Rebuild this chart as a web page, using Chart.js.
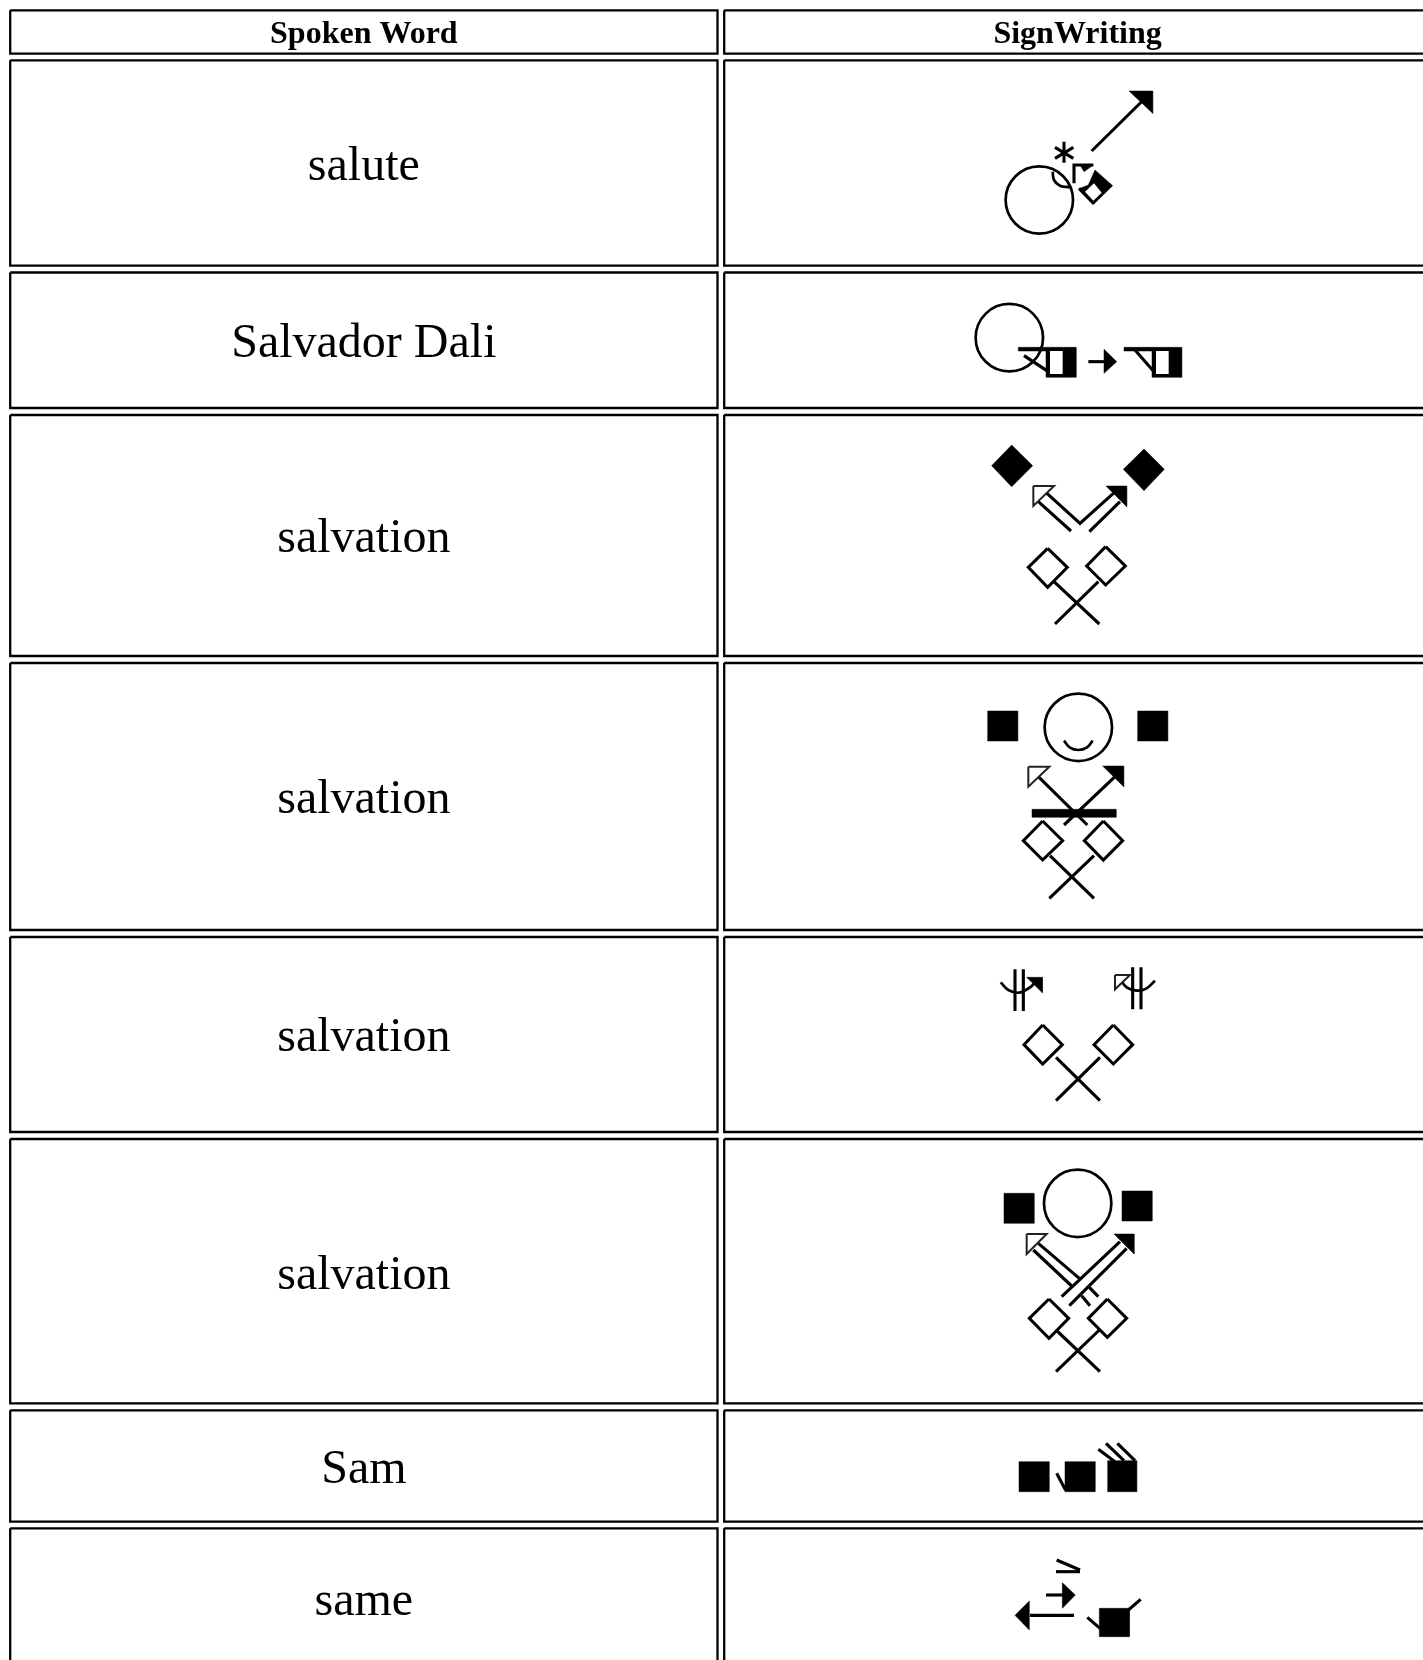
<!DOCTYPE html>
<html>
<head>
<meta charset="utf-8">
<title>SignWriting</title>
<script src="https://cdn.jsdelivr.net/npm/chart.js@4"></script>
<style>
  body { margin: 0; background: #fff; overflow: hidden; }
  #page { width: 1423px; height: 1660px; }
  canvas { filter: blur(0.35px); }
</style>
</head>
<body>
<div id="page"><canvas id="table-chart" width="1423" height="1660"></canvas></div>
<script>
// table text
const headers = ["Spoken Word", "SignWriting"];
const words = ["salute", "Salvador Dali", "salvation", "salvation", "salvation", "salvation", "Sam", "same"];
const headerBaseline = 43;
const wordBaselines = [180, 357, 552, 813, 1051, 1289, 1483, 1615];

// outer edges of the table rows and columns
const rowTops = [9.3, 59.3, 271.5, 414, 662, 936, 1138, 1409.3, 1527.3];
const rowBottoms = [54.7, 266.7, 409, 657, 931, 1133, 1404.3, 1522.7, 1680];
const colLefts = [9.2, 723.2];
const colRights = [718.5, 1432];

const saluteAt = [960, 70];
const saluteLines = [
  [395,243, 550,90],
  [312,215, 312,278], [285,232, 340,265], [285,265, 340,232],
  [342,340, 342,285, 400,285], [357,355, 402,402]
];
const saluteCurves = [[278,305, 282,330, 300,347, 330,352]];
const saluteFills = [
  [507,63, 578,63, 578,130], [360,285, 400,285, 372,305],
  [405,300, 458,347, 402,402, 357,356, 385,345]
];
const saluteHoles = [[402,340, 425,368, 400,392, 375,365]];
const saluteRings = [[238,390]];

const daliAt = [950, 290];
const daliLines = [
  [222,197, 295,245], [415,215, 470,215], [555,180, 612,245]
];
const daliFills = [
  [205,172, 378,172, 378,262, 288,262, 288,183, 205,183], [462,178, 500,215, 462,250],
  [522,172, 695,172, 695,262, 606,262, 606,183, 522,183]
];
const daliHoles = [[300,183, 338,183, 338,252, 300,252], [618,183, 656,183, 656,252, 618,252]];
const daliRings = [[178,143]];

const salvationAAt = [970, 430];
const salvationALines = [
  [225,185, 330,280, 430,190], [205,215, 303,303], [358,305, 450,215],
  [252,455, 388,582], [385,455, 255,582]
];
const salvationAFills = [
  [125,45, 188,107, 125,170, 65,107], [522,57, 583,118, 522,182, 460,118],
  [408,168, 470,168, 470,230]
];
const salvationAHeads = [[190,168, 252,168, 190,228]];
const salvationAOutlines = [
  [233,355, 292,412, 233,472, 175,412], [407,350, 466,408, 407,465, 350,408]
];

const salvationBAt = [970, 680];
const salvationBLines = [
  [205,290, 352,435], [435,290, 282,435],
  [240,527, 372,655], [372,527, 238,655]
];
const salvationBCurves = [[282,182, 300,203, 325,210, 350,203, 368,182]];
const salvationBFills = [
  [53,93, 143,93, 143,183, 53,183], [503,93, 593,93, 593,183, 503,183],
  [398,258, 461,258, 461,320], [186,388, 438,388, 438,412, 186,412]
];
const salvationBHeads = [[175,260, 238,260, 175,320]];
const salvationBOutlines = [
  [218,423, 278,482, 218,540, 160,482], [400,423, 458,482, 400,540, 343,482]
];
const salvationBRings = [[325,142]];

const salvationCAt = [980, 950];
const salvationCLines = [
  [105,58, 105,183], [130,58, 130,183],
  [458,52, 458,178], [483,52, 483,178],
  [228,322, 360,452], [360,322, 228,452]
];
const salvationCCurves = [
  [62,97, 85,120, 118,128, 150,112, 170,92], [525,92, 500,115, 470,122, 440,112, 420,88]
];
const salvationCFills = [[140,82, 187,82, 187,128]];
const salvationCHeads = [[405,75, 450,75, 405,118]];
const salvationCOutlines = [
  [188,225, 247,284, 188,342, 132,284], [400,225, 458,284, 400,342, 342,284]
];

const salvationDAt = [980, 1150];
const salvationDLines = [
  [175,280, 298,385], [160,300, 275,408], [328,412, 355,440], [305,437, 330,467],
  [420,275, 245,440], [440,295, 268,467],
  [228,540, 360,665], [358,540, 228,665]
];
const salvationDFills = [
  [72,130, 162,130, 162,220, 72,220], [426,123, 516,123, 516,213, 426,213],
  [402,252, 462,252, 462,312]
];
const salvationDHeads = [[140,252, 200,252, 140,312]];
const salvationDOutlines = [
  [207,447, 266,505, 207,565, 148,505], [382,447, 440,505, 382,562, 325,505]
];
const salvationDRings = [[293,160]];

const samAt = [1000, 1420];
const samLines = [
  [170,160, 195,207, 200,212], [295,88, 345,125], [318,70, 372,122], [352,70, 405,122]
];
const samFills = [
  [57,125, 147,125, 147,215, 57,215], [195,125, 285,125, 285,215, 195,215], [323,122, 410,122, 410,215, 323,215]
];

const sameAt = [1000, 1420];
const sameLines = [
  [168,455, 240,455], [170,420, 240,450], [138,525, 200,525], [90,586, 222,586],
  [262,592, 300,625], [385,570, 422,538]
];
const sameFills = [
  [187,488, 226,525, 187,565], [88,543, 45,586, 88,630], [298,565, 388,565, 388,650, 298,650]
];

const signs = [
  { at: saluteAt, lines: saluteLines, curves: saluteCurves, fills: saluteFills, holes: saluteHoles, rings: saluteRings },
  { at: daliAt, lines: daliLines, fills: daliFills, holes: daliHoles, rings: daliRings },
  { at: salvationAAt, lines: salvationALines, fills: salvationAFills, heads: salvationAHeads, outlines: salvationAOutlines },
  { at: salvationBAt, lines: salvationBLines, curves: salvationBCurves, fills: salvationBFills, heads: salvationBHeads, outlines: salvationBOutlines, rings: salvationBRings },
  { at: salvationCAt, lines: salvationCLines, curves: salvationCCurves, fills: salvationCFills, heads: salvationCHeads, outlines: salvationCOutlines },
  { at: salvationDAt, lines: salvationDLines, fills: salvationDFills, heads: salvationDHeads, outlines: salvationDOutlines, rings: salvationDRings },
  { at: samAt, lines: samLines, fills: samFills },
  { at: sameAt, lines: sameLines, fills: sameFills },
];

const datasets = [];

function toPoints(at, flat) {
  const pts = [];
  for (let i = 0; i < flat.length; i += 2) {
    pts.push({ x: at[0] + flat[i] / 3, y: at[1] + flat[i + 1] / 3 });
  }
  return pts;
}

function closed(at, flat) {
  const pts = toPoints(at, flat);
  pts.push(pts[0]);
  return pts;
}

function addPath(data, opts) {
  datasets.push(Object.assign({
    data: data,
    showLine: true,
    pointRadius: 0,
    borderColor: "#000",
    borderWidth: 3.1,
    borderCapStyle: "butt",
    borderJoinStyle: "miter",
    fill: false,
    clip: false,
    order: -datasets.length,
  }, opts));
}

// cell borders
rowTops.forEach((top, r) => {
  const bottom = rowBottoms[r];
  colLefts.forEach((left, c) => {
    const right = colRights[c];
    addPath([
      { x: left + 1, y: top + 1 }, { x: right - 1, y: top + 1 },
      { x: right - 1, y: bottom - 1 }, { x: left + 1, y: bottom - 1 }, { x: left + 1, y: top + 1 },
    ], { borderWidth: 2.3 });
  });
});

signs.forEach((s) => {
  (s.rings || []).forEach((ring) => {
    datasets.push({
      data: toPoints(s.at, ring),
      pointRadius: 33.7,
      pointBorderWidth: 2.7,
      pointBorderColor: "#000",
      pointBackgroundColor: "transparent",
      clip: false,
      order: -datasets.length,
    });
  });
  (s.lines || []).forEach((flat) => addPath(toPoints(s.at, flat)));
  (s.curves || []).forEach((flat) => addPath(toPoints(s.at, flat), { tension: 0.4, borderWidth: 2.7 }));
  (s.outlines || []).forEach((flat) => {
    addPath(closed(s.at, flat), { borderWidth: 3, fill: "shape", backgroundColor: "#fff" });
  });
  (s.heads || []).forEach((flat) => {
    addPath(closed(s.at, flat), { borderWidth: 2, borderColor: "#222", fill: "shape", backgroundColor: "#fff" });
  });
  (s.fills || []).forEach((flat) => {
    addPath(closed(s.at, flat), { borderWidth: 0.5, fill: "shape", backgroundColor: "#000" });
  });
  (s.holes || []).forEach((flat) => {
    addPath(closed(s.at, flat), { borderWidth: 0, borderColor: "#fff", fill: "shape", backgroundColor: "#fff" });
  });
});

// words and headers sit on the same scales as everything else
const tableText = {
  id: "tableText",
  afterDatasetsDraw(chart) {
    const { ctx, scales } = chart;
    const col1 = (colLefts[0] + colRights[0]) / 2;
    const col2 = (colLefts[1] + colRights[1]) / 2;
    ctx.save();
    ctx.fillStyle = "#000";
    ctx.textAlign = "center";
    ctx.textBaseline = "alphabetic";
    ctx.font = "bold 32px 'Liberation Serif'";
    ctx.fillText(headers[0], scales.x.getPixelForValue(col1), scales.y.getPixelForValue(headerBaseline));
    ctx.fillText(headers[1], scales.x.getPixelForValue(col2), scales.y.getPixelForValue(headerBaseline));
    ctx.font = "48px 'Liberation Serif'";
    words.forEach((w, i) => {
      ctx.fillText(w, scales.x.getPixelForValue(col1), scales.y.getPixelForValue(wordBaselines[i]));
    });
    ctx.restore();
  },
};

new Chart(document.getElementById("table-chart"), {
  type: "scatter",
  data: { datasets: datasets },
  plugins: [tableText],
  options: {
    responsive: false,
    animation: false,
    events: [],
    layout: { padding: 0, autoPadding: false },
    plugins: { legend: { display: false }, tooltip: { enabled: false } },
    scales: {
      x: { type: "linear", display: false, min: 0, max: 1423 },
      y: { type: "linear", display: false, min: 0, max: 1660, reverse: true },
    },
  },
});
</script>
</body>
</html>
